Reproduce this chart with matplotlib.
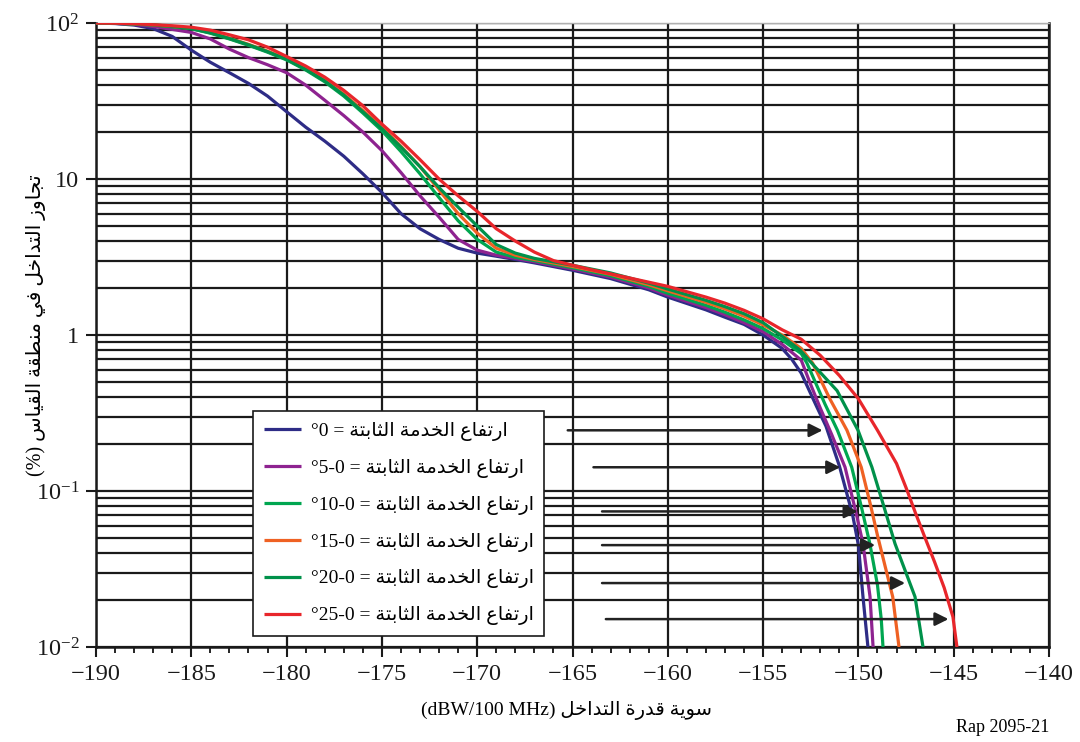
import numpy as np
import matplotlib
matplotlib.use("Agg")
import matplotlib.pyplot as plt
from matplotlib.ticker import FixedLocator, MultipleLocator, NullFormatter, LogLocator

plt.rcParams['font.family'] = ['Liberation Serif', 'DejaVu Sans']
plt.rcParams['mathtext.fontset'] = 'custom'
plt.rcParams['mathtext.rm'] = 'Liberation Serif'
plt.rcParams['mathtext.it'] = 'Liberation Serif:italic'

# ---- data ----
x_top = [-190, -189, -188, -187, -186, -185, -184, -183, -182, -181, -180, -179,
         -178, -177, -176, -175, -174, -173, -172, -171, -170, -169, -168, -167]

x_0 = x_top + [-165, -163, -161, -160, -158, -157, -156, -155, -154, -153.5, -153,
               -152.5, -152.2, -151.7, -151, -150.3, -150, -149.76, -149.5]
y_0 = [100, 99.2, 97, 92, 82, 67, 56, 48, 41, 34, 27, 21.5, 17.5, 14, 10.8, 8.2,
       6.0, 4.8, 4.1, 3.6, 3.35, 3.2, 3.05, 2.9,
       2.6, 2.3, 1.95, 1.75, 1.45, 1.3, 1.17, 1.0, 0.82, 0.7, 0.57,
       0.42, 0.35, 0.26, 0.145, 0.07, 0.045, 0.021, 0.01]

x_5 = x_top + [-165, -163, -161, -160, -158, -157, -156, -155, -154, -153,
               -152.5, -152, -151.4, -150.7, -150.07, -149.76, -149.39, -149.23]
y_5 = [100, 99.5, 98, 95, 91, 87, 79, 68, 60, 54, 48, 40, 32, 25.5, 20, 15.2,
       11, 7.8, 5.7, 4.1, 3.5, 3.25, 3.1, 2.95,
       2.65, 2.35, 2.0, 1.8, 1.5, 1.35, 1.2, 1.05, 0.87, 0.69,
       0.48, 0.34, 0.23, 0.142, 0.068, 0.046, 0.021, 0.01]

x_10 = x_top + [-165, -163, -161, -160, -158, -157, -156, -155, -154, -153,
                -152.7, -151.75, -151.1, -150.35, -149.8, -149.4, -149.0, -148.8, -148.71]
y_10 = [100, 99.5, 98.5, 97, 94.5, 92, 86, 79, 72, 65, 58, 50, 42, 34, 26.5, 20.4,
        15, 10.8, 7.6, 5.4, 4.1, 3.4, 3.15, 3.0,
        2.7, 2.4, 2.05, 1.85, 1.55, 1.4, 1.25, 1.1, 0.93, 0.76,
        0.66, 0.36, 0.245, 0.142, 0.075, 0.046, 0.025, 0.015, 0.01]

x_15 = x_top + [-165, -163, -161, -160, -158, -157, -156, -155, -154, -153,
                -152.4, -151.5, -150.6, -149.85, -149.35, -149.0, -148.6, -148.2, -147.87]
y_15 = [100, 99.6, 98.8, 97.3, 95, 92.5, 87, 80, 73, 66, 59, 51, 43, 35, 27.5, 21.5,
        16.2, 12, 8.5, 6.0, 4.5, 3.6, 3.25, 3.05,
        2.75, 2.45, 2.1, 1.92, 1.62, 1.47, 1.32, 1.16, 1.0, 0.82,
        0.66, 0.39, 0.245, 0.142, 0.08, 0.052, 0.033, 0.021, 0.01]

x_20 = x_top + [-165, -163, -161, -160, -158, -157, -156, -155, -154, -153.06,
                -152.4, -151.12, -150.02, -149.29, -148.6, -148.08, -147.03, -146.61]
y_20 = [100, 99.6, 98.8, 97.3, 95, 92, 86.5, 79.5, 72.5, 65.5, 58.5, 50.5, 42.5, 34.5, 27, 21,
        16, 12, 8.8, 6.6, 5.0, 3.8, 3.35, 3.1,
        2.8, 2.5, 2.15, 1.97, 1.67, 1.52, 1.37, 1.2, 0.98, 0.8,
        0.65, 0.44, 0.245, 0.142, 0.075, 0.046, 0.021, 0.01]

x_25 = x_top + [-166, -164, -162, -160, -158, -157, -156, -155, -154, -153, -152, -151, -150,
                -149, -148, -147.5, -147, -146.5, -146, -145.5, -145.04, -144.83]
y_25 = [100, 99.7, 99, 97.5, 96, 94, 90, 84, 78, 70, 61, 53, 45, 37, 29.5, 22.5,
        17.5, 13.3, 10, 7.8, 6.2, 4.8, 4.0, 3.4,
        3.0, 2.62, 2.32, 2.05, 1.75, 1.6, 1.44, 1.27, 1.08, 0.94, 0.74, 0.55, 0.39,
        0.245, 0.15, 0.105, 0.072, 0.05, 0.035, 0.024, 0.0156, 0.01]

elevations = ['0', '5-0', '10-0', '15-0', '20-0', '25-0']
colors = ['#2e2c86', '#8e2390', '#00a650', '#ef6123', '#00914a', '#e8262b']
arrow_levels = [0.245, 0.142, 0.074, 0.045, 0.0257, 0.0151]
arrow_start = [0.495, 0.522, 0.531, 0.531, 0.531, 0.535]   # axes fraction

xs = [x_0, x_5, x_10, x_15, x_20, x_25]
ys = [y_0, y_5, y_10, y_15, y_20, y_25]

# ---- minimal arabic shaping (presentation forms) so that the text reads right ----
DUAL = {'ب': 0xFE8F, 'ت': 0xFE95, 'ث': 0xFE99, 'ج': 0xFE9D, 'خ': 0xFEA5, 'س': 0xFEB1,
        'ط': 0xFEC1, 'ع': 0xFEC9, 'ف': 0xFED1, 'ق': 0xFED5, 'ل': 0xFEDD, 'م': 0xFEE1,
        'ن': 0xFEE5, 'ي': 0xFEF1}
RIGHT = {'ا': 0xFE8D, 'د': 0xFEA9, 'ر': 0xFEAD, 'ز': 0xFEAF, 'و': 0xFEED, 'ة': 0xFE93}


def shape(word):
    out = []
    for i, ch in enumerate(word):
        base = DUAL.get(ch, RIGHT.get(ch))
        if base is None:
            out.append(ch)
            continue
        prev = word[i - 1] if i > 0 else ''
        nxt = word[i + 1] if i + 1 < len(word) else ''
        jp = prev in DUAL
        jn = ch in DUAL and (nxt in DUAL or nxt in RIGHT)
        if jp and jn:
            code = base + 3
        elif jp:
            code = base + 1
        elif jn:
            code = base + 2
        else:
            code = base
        out.append(chr(code))
    return ''.join(out)[::-1]


def rtl(text):
    return ' '.join(shape(w) for w in reversed(text.split(' ')))


# ---- figure ----
fig = plt.figure(figsize=(10.8, 7.42), dpi=100)
ax = fig.add_axes([0.0889, 0.128, 0.8824, 0.841])

for x, y, c, e in zip(xs, ys, colors, elevations):
    ax.plot(x, y, color=c, lw=2.3, solid_capstyle='butt',
            label='°' + e + ' = ' + rtl('ارتفاع الخدمة الثابتة'), zorder=3)

ax.set_yscale('log')
ax.set_xlim(-190, -140)
ax.set_ylim(0.01, 100)

ax.xaxis.set_major_locator(MultipleLocator(5))
ax.xaxis.set_minor_locator(MultipleLocator(1))
ax.yaxis.set_major_locator(FixedLocator([0.01, 0.1, 1, 10, 100]))
ax.yaxis.set_minor_locator(LogLocator(base=10, subs=np.arange(2, 10)))
ax.yaxis.set_minor_formatter(NullFormatter())
ax.set_yticklabels([r'$10^{-2}$', r'$10^{-1}$', '1', '10', r'$10^{2}$'])

ax.grid(True, axis='x', which='major', color='#1a1a1a', lw=1.6)
ax.grid(True, axis='y', which='both', color='#1a1a1a', lw=1.6)
ax.set_axisbelow(True)

for s in ['left', 'bottom', 'right']:
    ax.spines[s].set_linewidth(1.8)
    ax.spines[s].set_color('#1a1a1a')
ax.spines['top'].set_color('#b0b0b0')
ax.spines['top'].set_linewidth(1.0)

ax.tick_params(axis='both', which='major', direction='out', length=7, width=1.5,
               labelsize=17.5, colors='#1a1a1a', pad=5)
ax.tick_params(axis='x', which='minor', direction='out', length=4, width=1.2)
ax.tick_params(axis='y', which='minor', length=0)

ax.set_xlabel('(dBW/100 MHz) ' + rtl('سوية قدرة التداخل'), fontsize=14, labelpad=14)
ax.set_ylabel('(%) ' + rtl('تجاوز التداخل في منطقة القياس'), fontsize=14.5)
ax.yaxis.set_label_coords(-0.052, 0.516)
ax.xaxis.set_label_coords(0.494, -0.087)

leg = ax.legend(loc='lower left', bbox_to_anchor=(0.165, 0.0176), borderaxespad=0,
                fontsize=14, handlelength=1.9, handletextpad=0.5, labelspacing=0.92,
                fancybox=False, framealpha=1, edgecolor='#1a1a1a', borderpad=0.55)
leg.get_frame().set_linewidth(1.2)
leg.set_zorder(4)

# arrows from the legend text to the matching curve
for x, y, lev, sx in zip(xs, ys, arrow_levels, arrow_start):
    tip = np.interp(np.log10(lev), np.log10(y)[::-1], np.array(x)[::-1]) - 0.25
    ax.annotate('', xy=(tip, lev), xycoords='data',
                xytext=(sx, lev), textcoords=ax.get_yaxis_transform(),
                arrowprops=dict(arrowstyle='-|>', color='#222222', lw=1.8,
                                mutation_scale=20, shrinkA=0, shrinkB=0),
                zorder=5)

fig.text(0.972, 0.019, 'Rap 2095-21', ha='right', va='center', fontsize=13)

fig.savefig('out.png', dpi=100)
